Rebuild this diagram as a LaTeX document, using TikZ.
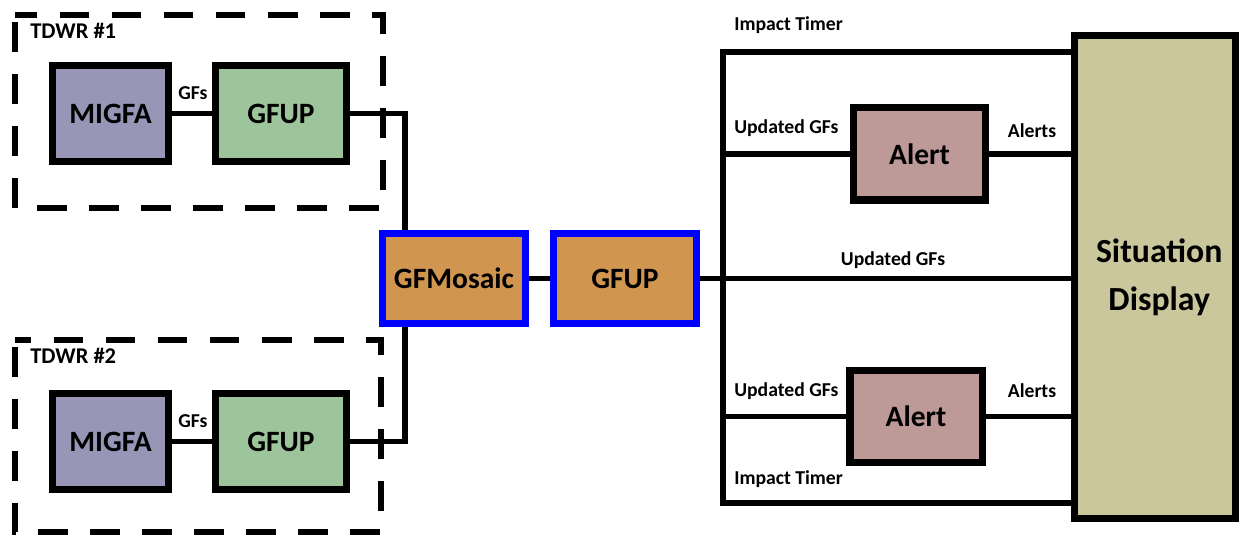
\documentclass[tikz,border=0pt]{standalone}
\usepackage{fontspec}
\setmainfont{Carlito}

\tikzset{
  unit/.style={draw, line width=5pt, inner sep=0pt, font=\fontsize{21}{24}\selectfont\bfseries},
  hub/.style={unit, draw=blue, fill=mosaicfill, minimum width=3.575cm, minimum height=2.25cm},
  tag/.style={inner sep=0pt, font=\fontsize{14}{16}\selectfont\bfseries},
  site/.style={draw, line width=4.3pt, dash pattern=on 21pt off 16pt, dash phase=32pt},
  wire/.style={line width=3.6pt, line join=miter}
}
\definecolor{migfafill}{RGB}{152,150,182}
\definecolor{gfupfill}{RGB}{157,196,155}
\definecolor{mosaicfill}{RGB}{208,150,80}
\definecolor{alertfill}{RGB}{189,153,152}
\definecolor{dispfill}{RGB}{201,199,155}

\begin{document}
\begin{tikzpicture}[x=0.025cm, y=-0.025cm]
\useasboundingbox (0,0) rectangle (1239,536);

\draw[site] (15,15) rectangle (383,208);
\draw[site] (15,340) rectangle (381,532);
\node[tag, anchor=west] (site1) at (30,31) {\fontsize{16}{18}\selectfont TDWR \#1};
\node[tag, anchor=west] (site2) at (30,356) {\fontsize{16}{18}\selectfont TDWR \#2};

\node[unit, fill=migfafill, minimum width=2.9cm, minimum height=2.4cm] (migfa1) at (110.5,113.5) {MIGFA};
\node[unit, fill=gfupfill, minimum width=3.275cm, minimum height=2.4cm] (gfup1) at (281,113.5) {GFUP};
\node[unit, fill=migfafill, minimum width=2.9cm, minimum height=2.4cm] (migfa2) at (110.5,441.5) {MIGFA};
\node[unit, fill=gfupfill, minimum width=3.275cm, minimum height=2.4cm] (gfup2) at (281,441.5) {GFUP};
\node[tag] (gfs1) at (193,93) {GFs};
\node[tag] (gfs2) at (193,421) {GFs};

\node[hub] (mosaic) at (454,278.5) {GFMosaic};
\node[hub] (gfup3) at (625,278.5) {GFUP};

\node[unit, fill=alertfill, minimum width=3.3cm, minimum height=2.3cm] (alert1) at (919.5,154) {Alert};
\node[unit, fill=alertfill, minimum width=3.3cm, minimum height=2.3cm] (alert2) at (916,416.5) {Alert};
\node[unit, fill=dispfill, minimum width=4.025cm, minimum height=12.075cm,
      align=center, font=\fontsize{24}{34}\selectfont\bfseries] (disp) at (1155,277) {\hspace*{6pt}Situation\\\hspace*{6pt}Display};

\coordinate (tap) at (405,0);
\coordinate (busT) at (723,52);
\coordinate (busB) at (723,503);

\draw[wire] (migfa1) to (gfup1);
\draw[wire] (migfa2) to (gfup2);
\draw[wire] (gfup1.east) -| (mosaic.north -| tap);
\draw[wire] (gfup2.east) -| (mosaic.south -| tap);
\draw[wire] (mosaic) to (gfup3);
\draw[wire] (gfup3.east) to (gfup3.east -| disp.west);
\draw[wire] (busT -| disp.west) -- (busT) -- (busB) -- (busB -| disp.west);
\draw[wire] (alert1.west -| busT) to (alert1.west);
\draw[wire] (alert1.east) to (alert1.east -| disp.west);
\draw[wire] (alert2.west -| busT) to (alert2.west);
\draw[wire] (alert2.east) to (alert2.east -| disp.west);

\node[tag, anchor=west] (timer1) at (734,25) {Impact Timer};
\node[tag, anchor=west] (upd1) at (734,128) {Updated GFs};
\node[tag] (alerts1) at (1032,131) {Alerts};
\node[tag] (upd0) at (893,260) {Updated GFs};
\node[tag, anchor=west] (upd2) at (734,391) {Updated GFs};
\node[tag] (alerts2) at (1032,391) {Alerts};
\node[tag, anchor=west] (timer2) at (734,479) {Impact Timer};
\end{tikzpicture}
\end{document}
